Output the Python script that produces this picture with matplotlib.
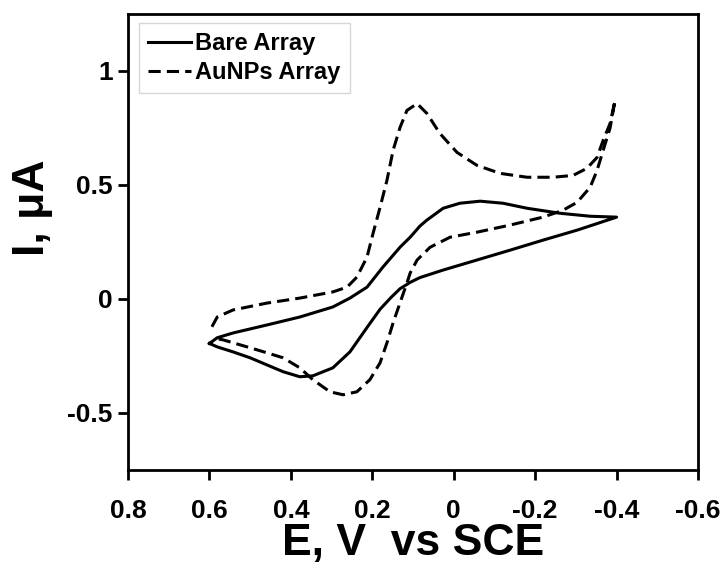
import matplotlib
matplotlib.use("Agg")
import matplotlib.pyplot as plt
import matplotlib.ticker as mticker

plt.rcParams["font.family"] = ["Liberation Sans", "DejaVu Sans"]
plt.rcParams["font.weight"] = "bold"
plt.rcParams["axes.unicode_minus"] = False

# Bare array: sweep from 0.6 V to -0.4 V, then back
bare_fwd_E = [0.6, 0.581, 0.542, 0.459, 0.378, 0.297, 0.255, 0.213, 0.174, 0.132, 0.107,
              0.083, 0.066, 0.026, -0.015, -0.065, -0.121, -0.18, -0.261, -0.335, -0.4]
bare_fwd_I = [-0.195, -0.17, -0.149, -0.114, -0.079, -0.035, 0.004, 0.052, 0.14, 0.227, 0.271,
              0.32, 0.346, 0.398, 0.42, 0.429, 0.42, 0.398, 0.376, 0.363, 0.359]
bare_rev_E = [-0.4, -0.303, -0.219, -0.138, -0.057, 0.026, 0.083, 0.107, 0.132, 0.155,
              0.181, 0.213, 0.255, 0.297, 0.346, 0.378, 0.419, 0.459, 0.5, 0.542, 0.581, 0.6]
bare_rev_I = [0.359, 0.302, 0.258, 0.214, 0.171, 0.127, 0.094, 0.073, 0.045, 0.005,
              -0.045, -0.125, -0.232, -0.302, -0.337, -0.341, -0.319, -0.289, -0.258, -0.232,
              -0.21, -0.195]

# AuNPs array
au_fwd_E = [0.594, 0.581, 0.542, 0.459, 0.378, 0.297, 0.262, 0.238, 0.213, 0.198, 0.181,
            0.164, 0.149, 0.132, 0.115, 0.09, 0.066, 0.034, -0.008, -0.057, -0.114, -0.18,
            -0.244, -0.293, -0.327, -0.352, -0.367, -0.384, -0.396]
au_fwd_I = [-0.122, -0.079, -0.048, -0.018, 0.004, 0.031, 0.052, 0.096, 0.184, 0.289, 0.402,
            0.521, 0.652, 0.752, 0.827, 0.857, 0.814, 0.726, 0.643, 0.586, 0.551, 0.534,
            0.534, 0.542, 0.573, 0.621, 0.696, 0.77, 0.87]
au_rev_E = [-0.396, -0.384, -0.367, -0.352, -0.335, -0.303, -0.268, -0.219, -0.138, -0.057,
            0.009, 0.058, 0.09, 0.107, 0.115, 0.132, 0.149, 0.164, 0.181, 0.206, 0.238, 0.272,
            0.304, 0.346, 0.378, 0.419, 0.459, 0.5, 0.542, 0.567, 0.58]
au_rev_I = [0.87, 0.75, 0.652, 0.564, 0.49, 0.424, 0.389, 0.359, 0.324, 0.293,
            0.271, 0.227, 0.171, 0.114, 0.07, -0.017, -0.105, -0.192, -0.28, -0.354, -0.407, -0.42,
            -0.407, -0.354, -0.302, -0.258, -0.236, -0.214, -0.192, -0.179, -0.175]

x_ticks = [0.8, 0.6, 0.4, 0.2, 0, -0.2, -0.4, -0.6]
y_ticks = [-0.5, 0, 0.5, 1]

fig = plt.figure(figsize=(7.25, 5.69), dpi=100)
ax = fig.add_axes([0.1766, 0.174, 0.7862, 0.8014])

lw = 2.2
ax.plot(bare_fwd_E + bare_rev_E[1:], bare_fwd_I + bare_rev_I[1:], color="black", lw=lw,
        label="Bare Array", solid_joinstyle="round")
ax.plot(au_fwd_E + au_rev_E[1:], au_fwd_I + au_rev_I[1:], color="black", lw=lw,
        dashes=(4, 2), label="AuNPs Array")

ax.set_xlim(0.8, -0.6)
ax.set_ylim(-0.75, 1.25)
ax.set_xticks(x_ticks)
ax.set_yticks(y_ticks)
fmt = mticker.FuncFormatter(lambda v, pos: f"{v:g}")
ax.xaxis.set_major_formatter(fmt)
ax.yaxis.set_major_formatter(fmt)
ax.tick_params(direction="out", length=7, width=2, labelsize=19)
ax.tick_params(axis="x", pad=14)
ax.tick_params(axis="y", pad=4)
for s in ax.spines.values():
    s.set_linewidth(2)

ax.set_xlabel("E, V  vs SCE", fontsize=32, fontweight="bold", labelpad=0)
fig.text(0.045, 1 - 208 / 569, "I, \u03bcA", rotation=90, fontsize=32, fontweight="bold",
         ha="center", va="center")

leg = ax.legend(loc="upper left", bbox_to_anchor=(0.019, 0.98), fontsize=17, frameon=True,
                fancybox=False, edgecolor="#cccccc", handlelength=1.8, handletextpad=0.2,
                labelspacing=0.24, borderpad=0.39, borderaxespad=0)
leg.get_frame().set_linewidth(1)

fig.savefig("out.png", dpi=100)
